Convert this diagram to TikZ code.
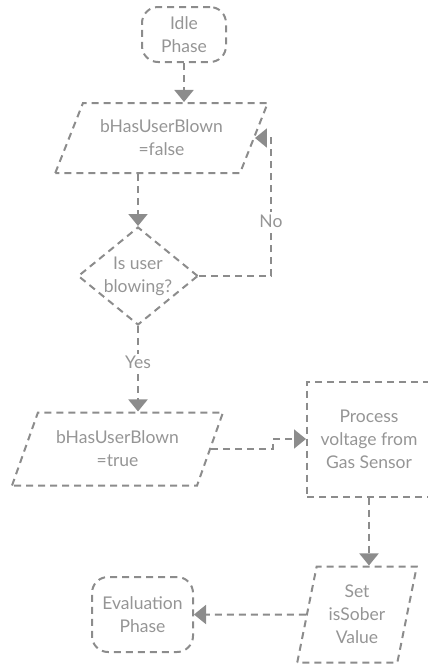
\documentclass[tikz,border=0pt]{standalone}
\usepackage{fontspec}
\setmainfont{Lato}
\usetikzlibrary{shapes.geometric,arrows.meta}
\definecolor{linegray}{HTML}{8C8C8C}
\definecolor{txtgray}{HTML}{959595}

\begin{document}
\begin{tikzpicture}[x=1pt, y=-1pt,
				every node/.style={font=\fontsize{17.5}{23}\selectfont, text=txtgray, align=center},
				line/.style={draw=linegray, line width=2pt, dash pattern=on 7pt off 5pt},
				term/.style={line, rectangle, rounded corners=16pt, inner sep=0},
				io/.style={line, trapezium, trapezium stretches=true, inner sep=0},
				decision/.style={line, diamond, aspect=1.2, inner sep=0},
				process/.style={line, rectangle, inner sep=0},
				lbl/.style={fill=white, draw=none, inner sep=2pt},
				arr/.style={line, -{Triangle[width=19pt,length=12pt]}}]
				
				\useasboundingbox (0,0) rectangle (428,665);
				
				\begin{scope}
				\node [term, minimum width=84pt, minimum height=55pt] (idle) at (184,34.5) {Idle\\Phase};
				\node [io, below of=idle, node distance=103.5pt, xshift=-22.5pt, minimum width=213pt, minimum height=70pt,
					trapezium left angle=59, trapezium right angle=121] (falsebox) {bHasUserBlown\\=false};
				\node [decision, below of=falsebox, node distance=138pt, xshift=-23.5pt, minimum width=120pt, minimum height=98pt] (blowing) {Is user\\blowing?};
				\node [io, below of=blowing, node distance=173pt, xshift=-20.5pt, minimum width=211pt, minimum height=73pt,
					trapezium left angle=61, trapezium right angle=119] (truebox) {bHasUserBlown\\=true};
				\node [process, right of=truebox, node distance=251.5pt, yshift=10pt, minimum width=124pt, minimum height=115pt] (proc) {Process\\voltage from\\Gas Sensor};
				\node [io, below of=proc, node distance=175.5pt, xshift=-12pt, minimum width=120pt, minimum height=96pt,
					trapezium left angle=77, trapezium right angle=103] (setbox) {Set\\isSober\\Value};
				\node [term, left of=setbox, node distance=214.5pt, minimum width=101pt, minimum height=75pt] (evalbox) {Evaluation\\Phase};
				\coordinate (jog) at ([xshift=62pt]truebox.east);
				\begin{scope}[arr]
				\draw (idle) -- (idle |- falsebox.north);
				\draw (blowing.north |- falsebox.south) -- (blowing);
				\draw (blowing) -- (blowing |- truebox.north) node [lbl, pos=0.43] {Yes};
				\draw (blowing.east) -- ([xshift=72pt]blowing.east) |- node [lbl, pos=0.2] {No} (falsebox.east);
				\draw (truebox.east) -- (jog) |- (proc.west);
				\draw (proc) -- (proc |- setbox.north);
				\draw (setbox) -- (evalbox);
				\end{scope}
				\end{scope}
				\end{tikzpicture}
\end{document}
